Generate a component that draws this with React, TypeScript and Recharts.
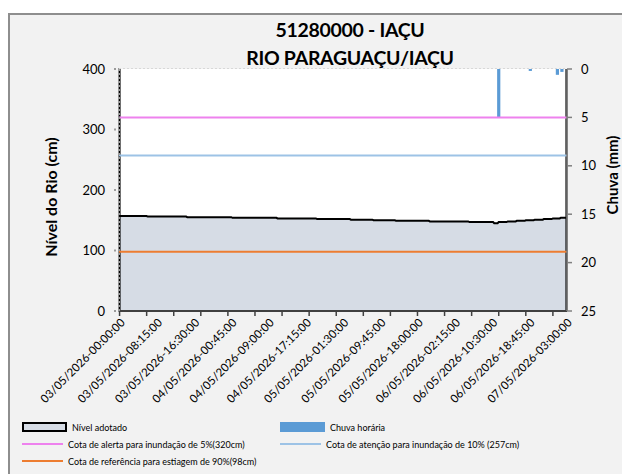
import React from 'react';
import { ComposedChart, Area, Bar, XAxis, YAxis, CartesianGrid, ReferenceLine } from 'recharts';

// 15-minute readings from 03/05/2026 00:00:00 to 07/05/2026 03:00:00
const firstDay = 3;
const stepMinutes = 15;
const pointCount = 397;
const labelEvery = 33;
const tickEvery = 24;

// river level (cm) as [value, number of consecutive readings]
const levelRuns: [number, number][] = [
  [157, 25], [156, 35], [155, 40], [154, 40], [153, 35], [152, 30], [151, 20],
  [150, 20], [149, 30], [148, 35], [147, 22], [145, 4], [147, 8], [148, 8],
  [149, 8], [150, 8], [151, 8], [152, 8], [153, 7], [154, 6],
];

// hourly rain (mm)
const rainReadings: [string, number][] = [
  ['06/05/2026-12:00:00', 5.0],
  ['06/05/2026-19:00:00', 0.2],
  ['07/05/2026-01:00:00', 0.6],
  ['07/05/2026-02:00:00', 0.3],
];

const levelTicks = [0, 100, 200, 300, 400];
const rainTicks = [0, 5, 10, 15, 20, 25];

const alertLevel = 320;
const attentionLevel = 257;
const referenceLevel = 98;

const pad = (n: number) => String(n).padStart(2, '0');
const stamp = (i: number) => {
  const mins = i * stepMinutes;
  const day = firstDay + Math.floor(mins / 1440);
  const h = Math.floor((mins % 1440) / 60);
  const m = mins % 60;
  return `${pad(day)}/05/2026-${pad(h)}:${pad(m)}:00`;
};

const levels: number[] = levelRuns.flatMap(([v, n]) => Array(n).fill(v));
const rainMap = new Map(rainReadings);

const data = Array.from({ length: pointCount }, (_, i) => ({
  label: stamp(i),
  level: levels[i],
  rain: rainMap.get(stamp(i)) ?? null,
}));

const FONT = 'Lato, "Open Sans", sans-serif';

const XTick = ({ x, y, payload, index }: any) => {
  const i = payload?.index ?? index;
  return (
    <g>
      {i % tickEvery === 0 && <line x1={x} x2={x} y1={y} y2={y + 5} stroke="#404040" strokeWidth={1.5} />}
      {i % labelEvery === 0 && (
        <text
          transform={`translate(${x + 3},${y + 9}) rotate(-45)`}
          textAnchor="end"
          dominantBaseline="central"
          fontSize={11.5}
          fontFamily={FONT}
          fill="#000"
        >
          {payload.value}
        </text>
      )}
    </g>
  );
};

const RainBar = (p: any) => {
  if (p.value == null || !p.height) return null;
  const top = Math.min(p.y, p.y + p.height);
  const h = Math.max(Math.abs(p.height), 1.5);
  return <rect x={p.x + p.width / 2 - 1.6} y={top} width={3.2} height={h} fill="#5b9bd5" />;
};

const legendItems = [
  { label: 'Nível adotado', kind: 'box', color: '#d6dce5', border: '#000', x: 12, y: 412 },
  { label: 'Chuva horária', kind: 'box', color: '#5b9bd5', border: '#5b9bd5', x: 270, y: 412 },
  { label: 'Cota de alerta  para inundação de  5%(320cm)', kind: 'line', color: '#ee82ee', x: 12, y: 429 },
  { label: 'Cota de atenção  para inundação de 10% (257cm)', kind: 'line', color: '#9dc3e6', x: 270, y: 429 },
  { label: 'Cota de referência para  estiagem de 90%(98cm)', kind: 'line', color: '#ed7d31', x: 12, y: 446 },
];

export default function App() {
  const first = data[0].label;
  const last = data[data.length - 1].label;
  return (
    <div style={{ position: 'fixed', left: 0, top: 0, width: 622, height: 474, overflow: 'hidden', background: '#fff' }}>
      <div
        style={{
          position: 'absolute', left: 8, top: 13, width: 640, height: 480,
          border: '2px solid #8e8e8e', background: '#f2f2f2', fontFamily: FONT,
        }}
      >
        <div style={{ position: 'absolute', left: 130, width: 420, top: 1, textAlign: 'center', fontWeight: 700, fontSize: 19.5, lineHeight: '28px', letterSpacing: -0.3 }}>
          51280000 - IAÇU<br />RIO PARAGUAÇU/IAÇU
        </div>
        <div style={{ position: 'absolute', left: 40, top: 182, transform: 'translate(-50%,-50%) rotate(-90deg)', whiteSpace: 'nowrap', fontWeight: 700, fontSize: 16 }}>
          Nível do Rio (cm)
        </div>
        <div style={{ position: 'absolute', left: 602, top: 160, transform: 'translate(-50%,-50%) rotate(-90deg)', whiteSpace: 'nowrap', fontWeight: 700, fontSize: 15 }}>
          Chuva (mm)
        </div>
        <div style={{ position: 'absolute', left: 0, top: 0 }}>
          <ComposedChart width={607} height={400} data={data} margin={{ top: 54, right: 0, bottom: 0, left: 0 }}>
            <rect x={109} y={54} width={448} height={242} fill="#fff" />
            <CartesianGrid vertical={false} horizontalValues={levelTicks} stroke="#bfbfbf" strokeDasharray="2 2" yAxisId="left" />
            <XAxis
              dataKey="label"
              interval={0}
              tickLine={false}
              tickSize={0}
              tickMargin={0}
              tick={<XTick />}
              height={104}
              axisLine={{ stroke: '#404040', strokeWidth: 2 }}
            />
            <YAxis
              yAxisId="left"
              domain={[0, 400]}
              ticks={levelTicks}
              width={109}
              tickSize={5}
              tickMargin={9}
              axisLine={{ stroke: '#9a9a9a', strokeWidth: 2, strokeDasharray: '2 2' }}
              tickLine={{ stroke: '#9a9a9a', strokeWidth: 2, strokeDasharray: '2 2' }}
              tick={{ fontSize: 13, fontFamily: FONT, fill: '#000' }}
            />
            <YAxis
              yAxisId="right"
              orientation="right"
              reversed
              domain={[0, 25]}
              ticks={rainTicks}
              width={50}
              tickSize={5}
              tickMargin={9}
              axisLine={{ stroke: '#808080', strokeWidth: 1.5 }}
              tickLine={{ stroke: '#808080', strokeWidth: 1.5 }}
              tick={{ fontSize: 13, fontFamily: FONT, fill: '#000' }}
            />
            <Area
              yAxisId="left"
              type="linear"
              dataKey="level"
              stroke="#000"
              strokeWidth={2}
              fill="#d6dce5"
              fillOpacity={1}
              isAnimationActive={false}
              dot={false}
              activeDot={false}
            />
            <ReferenceLine yAxisId="left" x={first} stroke="#000" strokeWidth={2} />
            <ReferenceLine yAxisId="left" x={last} stroke="#000" strokeWidth={2} />
            <ReferenceLine yAxisId="left" y={alertLevel} stroke="#ee82ee" strokeWidth={2} />
            <ReferenceLine yAxisId="left" y={attentionLevel} stroke="#9dc3e6" strokeWidth={2} />
            <ReferenceLine yAxisId="left" y={referenceLevel} stroke="#ed7d31" strokeWidth={2} />
            <Bar yAxisId="right" dataKey="rain" fill="#5b9bd5" shape={<RainBar />} isAnimationActive={false} />
          </ComposedChart>
        </div>
        {legendItems.map((it) => (
          <div key={it.label} style={{ position: 'absolute', left: it.x, top: it.y - 8, height: 16, display: 'flex', alignItems: 'center', fontSize: 9, whiteSpace: 'nowrap' }}>
            {it.kind === 'box' ? (
              <span style={{ width: 41, height: 6, background: it.color, border: `2px solid ${it.border}`, boxSizing: 'content-box', marginRight: 5 }} />
            ) : (
              <span style={{ width: 41, height: 2, background: it.color, marginRight: 5 }} />
            )}
            <span>{it.label}</span>
          </div>
        ))}
      </div>
    </div>
  );
}
